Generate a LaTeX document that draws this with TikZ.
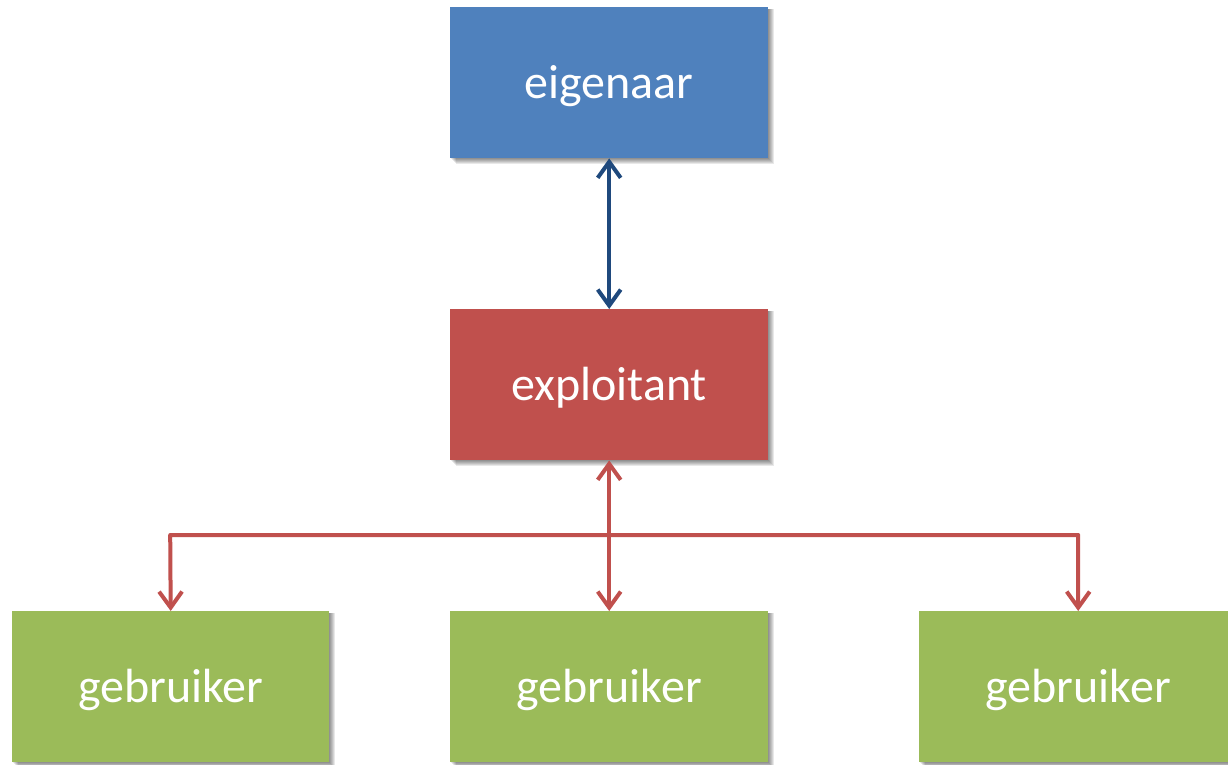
\documentclass[tikz,border=0pt]{standalone}
\usepackage{fontspec}
\setmainfont{Carlito}
\usetikzlibrary{arrows.meta}
\definecolor{cblue}{HTML}{4F81BD}
\definecolor{cred}{HTML}{C0504D}
\definecolor{cgreen}{HTML}{9BBB59}
\definecolor{darkarrow}{HTML}{1F497D}
\tikzset{
  box/.style={minimum width=318pt, minimum height=151pt, inner sep=0pt, text=white,
    font=\fontsize{48}{58}\selectfont, anchor=north west, text depth=0pt, text height=0pt},
  shadowbox/.style={fill=black, opacity=0.09},
  link/.style={line width=4pt, line cap=round, line join=round,
    {Straight Barb[length=16pt,width=23pt]}-{Straight Barb[length=16pt,width=23pt]}}
}
\newcommand{\shadowfor}[4]{% x1 y1 x2 y2
  \foreach \d in {1,2,3,4,5,6}{
    \fill[shadowbox] (#1+\d,#2+2) rectangle (#3+\d,#4+\d);
  }
}
\begin{document}
\begin{tikzpicture}[x=1pt,y=-1pt]
\useasboundingbox (0,0) rectangle (1228,764);
\clip (0,0) rectangle (1228,764);
% shadows
\shadowfor{450}{7}{768}{158}
\shadowfor{450}{309}{768}{460}
\shadowfor{12}{611}{329}{762}
\shadowfor{450}{611}{768}{762}
\shadowfor{919}{611}{1237}{762}
% boxes
\node[box, fill=cblue] (own) at (450,7) {\raisebox{-0.32em}{eigenaar}};
\node[box, fill=cred] (exp) at (450,309) {\raisebox{-0.32em}{exploitant}};
\node[box, fill=cgreen, minimum width=317pt] (g1) at (12,611) {\raisebox{-0.32em}{gebruiker}};
\node[box, fill=cgreen] (g2) at (450,611) {\raisebox{-0.32em}{gebruiker}};
\node[box, fill=cgreen] (g3) at (919,611) {\raisebox{-0.32em}{gebruiker}};
% connectors
\coordinate (j1) at ([xshift=-0.5pt]g1.north |- 0,535);
\coordinate (j3) at (g3.north |- 0,535);
\draw[link, darkarrow] (own.south) -- (exp.north);
\draw[link, cred] (exp.south) -- (g2.north);
\draw[link, cred] (g1.north) -- (j1) -- (j3) -- (g3.north);
\end{tikzpicture}
\end{document}
